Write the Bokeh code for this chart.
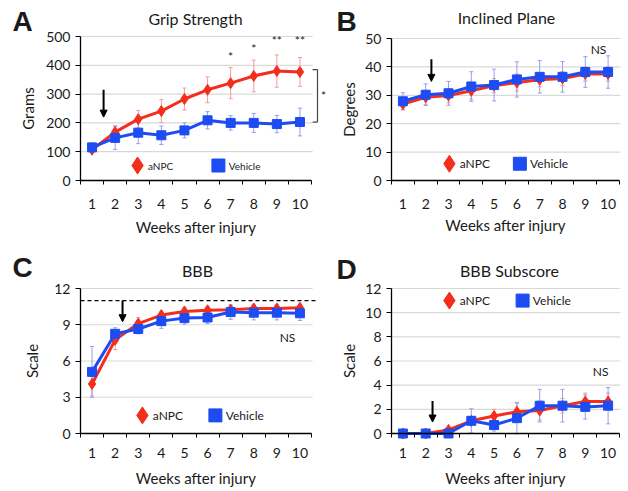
from bokeh.plotting import figure
from bokeh.models import FixedTicker, Label, Arrow, NormalHead
from bokeh.layouts import column, row
from bokeh.embed import file_html
from bokeh.resources import INLINE

# ---------------- data ----------------
weeks = [1, 2, 3, 4, 5, 6, 7, 8, 9, 10]

grip_anpc = [107, 168, 213, 241, 283, 315, 338, 363, 380, 377]
grip_anpc_err = [8, 22, 30, 40, 38, 45, 54, 55, 56, 50]
grip_veh = [115, 148, 166, 157, 174, 209, 200, 200, 196, 203]
grip_veh_err = [15, 40, 38, 32, 26, 30, 25, 33, 30, 48]
grip_ticks = [0, 100, 200, 300, 400, 500]
grip_star_weeks = [7, 8, 9, 10]
grip_star_text = ["*", "*", "**", "**"]
grip_star_y = [430, 458, 485, 485]

incl_anpc = [26.9, 29.3, 29.9, 31.6, 33.4, 34.5, 35.5, 35.9, 37.5, 37.5]
incl_anpc_err = [2.0, 2.5, 2.5, 3.0, 2.5, 3.0, 2.5, 2.5, 2.5, 2.5]
incl_veh = [27.9, 30.2, 30.7, 33.1, 33.6, 35.6, 36.5, 36.5, 38.2, 38.2]
incl_veh_err = [3.0, 3.8, 4.2, 5.2, 5.6, 6.2, 5.7, 5.4, 5.4, 5.7]
incl_ticks = [0, 10, 20, 30, 40, 50]

bbb_anpc = [4.1, 7.75, 9.1, 9.8, 10.1, 10.2, 10.25, 10.35, 10.35, 10.4]
bbb_anpc_err = [1.0, 0.8, 0.5, 0.3, 0.3, 0.3, 0.3, 0.3, 0.3, 0.3]
bbb_veh = [5.1, 8.25, 8.65, 9.3, 9.55, 9.6, 10.05, 10.0, 10.0, 9.95]
bbb_veh_err = [2.1, 0.5, 0.4, 0.6, 0.5, 0.5, 0.6, 0.6, 0.6, 0.6]
bbb_ticks = [0, 3, 6, 9, 12]
bbb_normal = 11

sub_anpc = [0, 0, 0.3, 1.05, 1.45, 1.8, 1.9, 2.3, 2.65, 2.65]
sub_anpc_err = [0, 0, 0.2, 0.3, 0.55, 0.7, 0.8, 0.6, 0.7, 0.7]
sub_veh = [0, 0, 0, 1.05, 0.7, 1.27, 2.3, 2.3, 2.2, 2.3]
sub_veh_err = [0, 0, 0, 1.0, 0.5, 1.3, 1.35, 1.35, 1.0, 1.5]
sub_ticks = [0, 2, 4, 6, 8, 10, 12]

panel_letters = ["A", "B", "C", "D"]
panel_titles = ["Grip Strength", "Inclined Plane", "BBB", "BBB Subscore"]

# ---------------- style ----------------
RED = "#F42E1C"
BLUE = "#1D4CF2"
RED_ERR = "#F2A097"
BLUE_ERR = "#9A9CF0"
GRID = "#d9d9d9"
TXT = "#1a1a1a"
FONT = "Lato"
BOLD_FONT = "Liberation Sans"


def add_label(p, x, y, text, size, align="center", baseline="middle",
              font=FONT, bold=False):
    p.add_layout(Label(x=x, y=y, text=text, text_font=font,
                       text_font_size=size, text_align=align,
                       text_baseline=baseline, text_color=TXT,
                       text_font_style="bold" if bold else "normal"))


def panel(w, h, axis_left, px_week, axis_bottom, axis_top, ticks, ylabel,
          anpc, anpc_err, veh, veh_err, grid_end,
          tick_standoff, xlab_standoff, ylab_standoff):
    """One quadrant; the frame fills it and the axes sit at fixed places."""
    px_unit = (axis_bottom - axis_top) / (ticks[-1] - ticks[0])
    x0 = weeks[0] - 0.5
    x_start = x0 - axis_left / px_week
    y_start = ticks[0] - (h - axis_bottom) / px_unit
    p = figure(frame_width=w, frame_height=h,
               x_range=(x_start, x_start + w / px_week),
               y_range=(y_start, y_start + h / px_unit),
               output_backend="svg", toolbar_location=None, title=None,
               min_border=0)
    p.outline_line_color = None
    p.grid.visible = False
    p.background_fill_color = "white"
    p.border_fill_color = "white"

    def px(xp, yp):  # quadrant pixel -> data
        return x_start + xp / px_week, ticks[0] + (axis_bottom - yp) / px_unit

    # horizontal grid lines
    gy = ticks[1:]
    p.segment(x0=[x0] * len(gy), y0=gy, x1=[grid_end] * len(gy),
              y1=gy, line_color=GRID, line_width=1.2)

    # error bars
    cap = 0.09
    for vals, errs, col in ((anpc, anpc_err, RED_ERR), (veh, veh_err, BLUE_ERR)):
        lo = [v - e for v, e in zip(vals, errs)]
        hi = [v + e for v, e in zip(vals, errs)]
        p.segment(x0=weeks, y0=lo, x1=weeks, y1=hi, line_color=col, line_width=1)
        p.segment(x0=[w_ - cap for w_ in weeks], y0=hi,
                  x1=[w_ + cap for w_ in weeks], y1=hi, line_color=col, line_width=1)
        p.segment(x0=[w_ - cap for w_ in weeks], y0=lo,
                  x1=[w_ + cap for w_ in weeks], y1=lo, line_color=col, line_width=1)

    p.line(weeks, anpc, line_color=RED, line_width=3)
    p.scatter(weeks, anpc, marker="diamond", size=11, color=RED)
    p.line(weeks, veh, line_color=BLUE, line_width=3)
    p.scatter(weeks, veh, marker="square", size=9, color=BLUE)

    xa = p.xaxis[0]
    xa.fixed_location = ticks[0]
    xa.ticker = FixedTicker(ticks=weeks,
                            minor_ticks=[w_ - 0.5 for w_ in weeks] + [weeks[-1] + 0.5])
    xa.bounds = (x0, weeks[-1] + 0.5)
    xa.major_tick_line_color = None
    xa.major_tick_out = 0
    xa.major_tick_in = 0
    xa.minor_tick_line_color = "black"
    xa.minor_tick_out = 4
    xa.minor_tick_in = 0
    xa.axis_line_color = "black"
    xa.axis_line_width = 1.3
    xa.major_label_text_font = FONT
    xa.major_label_text_font_size = "14px"
    xa.major_label_text_color = TXT
    xa.major_label_standoff = tick_standoff
    xa.axis_label = "Weeks after injury"
    xa.axis_label_text_font = FONT
    xa.axis_label_text_font_size = "15px"
    xa.axis_label_text_font_style = "normal"
    xa.axis_label_text_color = TXT
    xa.axis_label_standoff = xlab_standoff

    ya = p.yaxis[0]
    ya.fixed_location = x0
    ya.ticker = FixedTicker(ticks=ticks, minor_ticks=[])
    ya.bounds = (ticks[0], ticks[-1])
    ya.major_tick_out = 5
    ya.major_tick_in = 0
    ya.major_tick_line_color = "black"
    ya.minor_tick_line_color = None
    ya.axis_line_color = "black"
    ya.axis_line_width = 1.3
    ya.major_label_text_font = FONT
    ya.major_label_text_font_size = "14px"
    ya.major_label_text_color = TXT
    ya.major_label_standoff = 5
    ya.axis_label = ylabel
    ya.axis_label_text_font = FONT
    ya.axis_label_text_font_size = "15px"
    ya.axis_label_text_font_style = "normal"
    ya.axis_label_text_color = TXT
    ya.axis_label_standoff = ylab_standoff
    return p, px


def heading(p, px, letter, letter_px, title, title_px):
    lx, ly = px(*letter_px)
    add_label(p, lx, ly, letter, "28px", align="left", font=BOLD_FONT, bold=True)
    tx, ty = px(*title_px)
    add_label(p, tx, ty, title, "16px")


def legend(p, xd, xs, y, size):
    p.scatter([xd], [y], marker="diamond", size=17, color=RED)
    add_label(p, xd + 0.45, y, "aNPC", size, align="left")
    p.scatter([xs], [y], marker="square", size=13, color=BLUE)
    add_label(p, xs + 0.45, y, "Vehicle", size, align="left")


def arrow(p, x, y0, y1):
    p.add_layout(Arrow(end=NormalHead(size=7, fill_color="black",
                                      line_color="black"),
                       x_start=x, y_start=y0, x_end=x, y_end=y1,
                       line_color="black", line_width=2))


# ---------------- panel A ----------------
pA, pxA = panel(330, 245, 80, 23.1, 180, 36, grip_ticks, "Grams",
                grip_anpc, grip_anpc_err, grip_veh, grip_veh_err, 10.55, 14, 6, 6)
heading(pA, pxA, panel_letters[0], (12, 21), panel_titles[0], (195, 18))
for w, t, yy in zip(grip_star_weeks, grip_star_text, grip_star_y):
    add_label(pA, w, yy, t, "12px")
# significance bracket between final means
bx = 10.76
pA.segment(x0=[bx], y0=[grip_veh[-1]], x1=[bx], y1=[grip_anpc[-1] + 8],
           line_color="#444444", line_width=1.2)
pA.segment(x0=[10.55, 10.55], y0=[grip_veh[-1], grip_anpc[-1] + 8],
           x1=[bx, bx], y1=[grip_veh[-1], grip_anpc[-1] + 8],
           line_color="#444444", line_width=1.2)
add_label(pA, 11.02, 296, "*", "12px")
arrow(pA, 1.5, 315, 220)
legend(pA, 2.97, 6.47, 52, "10px")

# ---------------- panel B ----------------
pB, pxB = panel(298, 245, 61, 22.8, 180, 38, incl_ticks, "Degrees",
                incl_anpc, incl_anpc_err, incl_veh, incl_veh_err, 10.54, 14, 4, 4)
heading(pB, pxB, panel_letters[1], (6, 21), panel_titles[1], (176, 17))
add_label(pB, 9.58, 46.3, "NS", "12px")
arrow(pB, 2.25, 42.7, 34.9)
legend(pB, 3.04, 6.13, 5.9, "12px")

# ---------------- panel C ----------------
pC, pxC = panel(330, 246, 80, 23.1, 188, 43, bbb_ticks, "Scale",
                bbb_anpc, bbb_anpc_err, bbb_veh, bbb_veh_err, 10.55, 10, 8, 10)
heading(pC, pxC, panel_letters[2], (12, 22), panel_titles[2], (197, 25))
pC.segment(x0=[weeks[0] - 0.5], y0=[bbb_normal], x1=[10.7], y1=[bbb_normal],
           line_color="black", line_width=1.2, line_dash="4 3")
add_label(pC, 9.46, 7.95, "NS", "12px")
arrow(pC, 2.32, 11.0, 9.25)
legend(pC, 3.18, 6.34, 1.5, "12px")

# ---------------- panel D ----------------
pD, pxD = panel(298, 246, 61, 22.8, 188, 43, sub_ticks, "Scale",
                sub_anpc, sub_anpc_err, sub_veh, sub_veh_err, 10.54, 10, 8, 4)
heading(pD, pxD, panel_letters[3], (6, 24), panel_titles[3], (179, 25))
add_label(pD, 9.67, 5.1, "NS", "12px")
arrow(pD, 2.3, 2.7, 0.95)
legend(pD, 3.04, 6.25, 11.0, "12px")

layout = column(row(pA, pB), row(pC, pD))
open("out.html", "w").write(file_html(layout, INLINE))
